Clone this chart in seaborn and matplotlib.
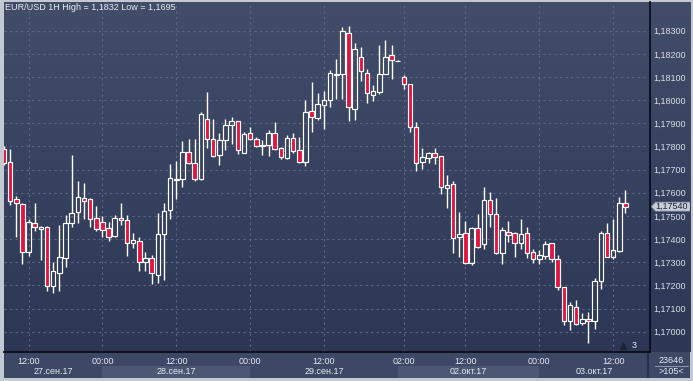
import numpy as np
import pandas as pd
import matplotlib
matplotlib.use("Agg")
import matplotlib.pyplot as plt
from matplotlib.colors import LinearSegmentedColormap
import seaborn as sns

# EUR/USD hourly candles (bar index 0 = 27 Sep 08:00)
opens = [1.17788, 1.17733, 1.17572, 1.17550, 1.17345, 1.17468, 1.17445, 1.17451, 1.17198, 1.17255,
         1.17319, 1.17468, 1.17515, 1.17576, 1.17572, 1.17490, 1.17472, 1.17446, 1.17414, 1.17490,
         1.17481, 1.17382, 1.17390, 1.17300, 1.17317, 1.17243, 1.17420, 1.17524, 1.17656, 1.17661,
         1.17776, 1.17727, 1.17658, 1.17917, 1.17831, 1.17762, 1.17829, 1.17891, 1.17909, 1.17773,
         1.17857, 1.17831, 1.17801, 1.17805, 1.17857, 1.17792, 1.17750, 1.17835, 1.17785, 1.17734,
         1.17953, 1.17924, 1.17978, 1.17999, 1.18110, 1.18113, 1.18291, 1.17960, 1.18188, 1.18116,
         1.18021, 1.18036, 1.18114, 1.18194, 1.18170, 1.18102, 1.18068, 1.17886, 1.17734, 1.17751,
         1.17770, 1.17757, 1.17622, 1.17638, 1.17410, 1.17425, 1.17298, 1.17446, 1.17377, 1.17569,
         1.17507, 1.17341, 1.17430, 1.17426, 1.17382, 1.17426, 1.17343, 1.17314, 1.17328, 1.17382,
         1.17312, 1.17192, 1.17047, 1.17108, 1.17039, 1.17053, 1.17045, 1.17220, 1.17425, 1.17324,
         1.17350, 1.17554]
highs = [1.17802, 1.17789, 1.17586, 1.17557, 1.17485, 1.17557, 1.17456, 1.17456, 1.17301, 1.17461,
         1.17504, 1.17764, 1.17651, 1.17643, 1.17576, 1.17543, 1.17500, 1.17472, 1.17503, 1.17554,
         1.17505, 1.17425, 1.17407, 1.17344, 1.17330, 1.17511, 1.17554, 1.17724, 1.17736, 1.17824,
         1.17832, 1.17832, 1.17950, 1.18035, 1.17919, 1.17859, 1.17917, 1.17927, 1.17912, 1.17862,
         1.17885, 1.17842, 1.17828, 1.17871, 1.17906, 1.17799, 1.17848, 1.17859, 1.17842, 1.18001,
         1.18078, 1.18030, 1.18040, 1.18130, 1.18176, 1.18316, 1.18320, 1.18248, 1.18230, 1.18135,
         1.18064, 1.18238, 1.18260, 1.18238, 1.18172, 1.18109, 1.18070, 1.17906, 1.17793, 1.17776,
         1.17793, 1.17759, 1.17677, 1.17651, 1.17517, 1.17478, 1.17451, 1.17508, 1.17626, 1.17603,
         1.17579, 1.17451, 1.17478, 1.17430, 1.17487, 1.17453, 1.17357, 1.17353, 1.17390, 1.17384,
         1.17330, 1.17193, 1.17128, 1.17137, 1.17079, 1.17085, 1.17232, 1.17436, 1.17471, 1.17488,
         1.17583, 1.17612]
lows = [1.17720, 1.17547, 1.17410, 1.17292, 1.17327, 1.17436, 1.17309, 1.17177, 1.17168, 1.17177,
        1.17280, 1.17451, 1.17471, 1.17488, 1.17451, 1.17436, 1.17410, 1.17392, 1.17410, 1.17459,
        1.17328, 1.17360, 1.17263, 1.17263, 1.17206, 1.17209, 1.17223, 1.17488, 1.17574, 1.17626,
        1.17724, 1.17652, 1.17655, 1.17792, 1.17754, 1.17721, 1.17785, 1.17812, 1.17769, 1.17770,
        1.17828, 1.17796, 1.17762, 1.17760, 1.17785, 1.17747, 1.17747, 1.17773, 1.17727, 1.17716,
        1.17864, 1.17916, 1.17875, 1.17972, 1.18005, 1.18005, 1.17911, 1.17914, 1.18084, 1.17989,
        1.17998, 1.18027, 1.18112, 1.18093, 1.18168, 1.18047, 1.17864, 1.17695, 1.17704, 1.17727,
        1.17724, 1.17595, 1.17535, 1.17341, 1.17324, 1.17292, 1.17289, 1.17363, 1.17357, 1.17453,
        1.17334, 1.17292, 1.17388, 1.17324, 1.17356, 1.17319, 1.17298, 1.17293, 1.17315, 1.17301,
        1.17180, 1.17030, 1.17007, 1.17030, 1.17030, 1.16950, 1.17013, 1.17185, 1.17321, 1.17315,
        1.17345, 1.17514]
closes = [1.17727, 1.17566, 1.17554, 1.17345, 1.17472, 1.17453, 1.17451, 1.17198, 1.17261, 1.17321,
          1.17469, 1.17512, 1.17580, 1.17566, 1.17488, 1.17445, 1.17438, 1.17410, 1.17490, 1.17481,
          1.17382, 1.17395, 1.17300, 1.17317, 1.17252, 1.17420, 1.17520, 1.17662, 1.17661, 1.17776,
          1.17730, 1.17661, 1.17940, 1.17831, 1.17757, 1.17827, 1.17893, 1.17909, 1.17783, 1.17854,
          1.17831, 1.17801, 1.17806, 1.17857, 1.17790, 1.17753, 1.17835, 1.17782, 1.17734, 1.17948,
          1.17926, 1.17982, 1.17999, 1.18116, 1.18113, 1.18297, 1.17969, 1.18220, 1.18126, 1.18030,
          1.18038, 1.18112, 1.18188, 1.18172, 1.18170, 1.18068, 1.17882, 1.17730, 1.17753, 1.17770,
          1.17756, 1.17626, 1.17633, 1.17406, 1.17422, 1.17295, 1.17446, 1.17367, 1.17569, 1.17507,
          1.17341, 1.17438, 1.17417, 1.17382, 1.17422, 1.17341, 1.17312, 1.17330, 1.17379, 1.17312,
          1.17192, 1.17045, 1.17114, 1.17033, 1.17053, 1.17045, 1.17219, 1.17427, 1.17324, 1.17353,
          1.17554, 1.17540]

price_ticks = [1.170, 1.171, 1.172, 1.173, 1.174, 1.175, 1.176, 1.177,
               1.178, 1.179, 1.180, 1.181, 1.182, 1.183]
time_ticks = [4, 16, 28, 40, 52, 65, 75, 87, 99]
time_labels = ["12:00", "00:00", "12:00", "00:00", "12:00", "02:00", "12:00", "00:00", "12:00"]
day_starts = [0, 16, 40, 64, 87]
day_labels = ["27.сен.17", "28.сен.17", "29.сен.17", "02.окт.17", "03.окт.17"]
bars_visible = 105
last_price = 1.17540
volume_text = "23646"
title = "EUR/USD 1H High = 1,1832 Low = 1,1695"

df = pd.DataFrame({"open": opens, "high": highs, "low": lows, "close": closes})
df["bar"] = np.arange(len(df))
df["up"] = df["close"] >= df["open"]
df["top"] = df[["open", "close"]].max(axis=1)
df["bot"] = df[["open", "close"]].min(axis=1)

sns.set_theme(style="dark")
plt.rcParams["font.family"] = ["Liberation Sans", "DejaVu Sans"]
FS = 6.5

W, H = 693, 381
fig = plt.figure(figsize=(W / 100, H / 100), dpi=100, facecolor="#c3c8d1")


def px_box(x0, y0, x1, y1):
    return [x0 / W, 1 - y1 / H, (x1 - x0) / W, (y1 - y0) / H]


ymin, ymax = 1.169121, 1.184240
xmin, xmax = -0.08, bars_visible

# gradient background behind the price area and the price scale
bg = fig.add_axes(px_box(3.5, 2, 690, 352), zorder=0)
grad = np.linspace(0, 1, 256).reshape(-1, 1)
cmap = LinearSegmentedColormap.from_list("bg", ["#424d6a", "#2c3756"])
bg.imshow(grad, aspect="auto", cmap=cmap, extent=[0, 1, 0, 1])
bg.axis("off")

# time axis strip
axb = fig.add_axes(px_box(3.5, 352, 650, 378), zorder=0.5, facecolor="#3c4865")
axb.set_xlim(xmin, xmax)
axb.set_ylim(0, 1)
axb.set_xticks([])
axb.set_yticks([])
for s in axb.spines.values():
    s.set_visible(False)
ends = day_starts[1:] + [bars_visible]
for k, (a, b, lab) in enumerate(zip(day_starts, ends, day_labels)):
    if k % 2 == 1:
        axb.axvspan(a, b, ymin=0, ymax=0.46, color="#4b5773", lw=0)
    axb.text((a + b) / 2, 0.24, lab, ha="center", va="center",
             fontsize=FS, color="#e6e9ef")
axb.axvline(xmax - 0.55, color="#27304a", lw=0.8)
axb.axvline(xmax - 0.3, color="#27304a", lw=0.8)

# right bottom box
axr = fig.add_axes(px_box(650, 352, 690, 378), zorder=0.5, facecolor="#3c4865")
axr.set_xlim(0, 1)
axr.set_ylim(0, 1)
axr.set_xticks([])
axr.set_yticks([])
for s in axr.spines.values():
    s.set_visible(False)
axr.text(0.53, 0.68, volume_text, ha="center", va="center", fontsize=FS, color="#e6e9ef")
axr.text(0.53, 0.24, f">{bars_visible}<", ha="center", va="center", fontsize=FS, color="#e6e9ef")
axr.plot([0.12, 0.95], [0.48, 0.48], color="#8c95aa", lw=0.8)

# main price chart
ax = fig.add_axes(px_box(3.5, 2, 650, 352), zorder=1)
ax.set_facecolor("none")
ax.set_xlim(xmin, xmax)
ax.set_ylim(ymin, ymax)

ax.vlines(df["bar"], df["top"], df["high"], color="white", lw=1)
ax.vlines(df["bar"], df["low"], df["bot"], color="white", lw=1)
ax.bar(df["bar"], (df["top"] - df["bot"]).clip(lower=1e-7), bottom=df["bot"], width=0.74,
       color=np.where(df["up"], "none", "#e0143c"), edgecolor="white", linewidth=0.85,
       zorder=3)

ax.set_yticks(price_ticks)
ax.yaxis.tick_right()
ax.yaxis.set_major_formatter(lambda v, p: f"{v:.5f}".replace(".", ","))
ax.set_xticks(time_ticks, time_labels)
ax.tick_params(axis="y", length=0, pad=2.6, labelsize=FS, labelcolor="#d8dce5")
ax.tick_params(axis="x", length=0, pad=3.8, labelsize=FS, labelcolor="#e6e9ef")
ax.grid(True, color="#5b6784", lw=0.8, linestyle=(0, (2, 3)))
for side, s in ax.spines.items():
    s.set_visible(side in ("right", "bottom"))
    s.set_color("#0b0e16")
    s.set_linewidth(1.3)

ax.plot(0.958, 0.018, marker="^", ms=4, color="#1b2337", transform=ax.transAxes, clip_on=False)
ax.text(0.975, 0.018, "3", ha="center", va="center", fontsize=FS, color="#e6e9ef",
        transform=ax.transAxes)

# last price tag on the price scale
axp = fig.add_axes(px_box(650, 2, 690, 352), zorder=2)
axp.set_facecolor("none")
axp.set_xlim(0, 40)
axp.set_ylim(ymin, ymax)
axp.axis("off")
hh = 0.000190
axp.fill([1.5, 5.5, 40, 40, 5.5], [last_price, last_price + hh, last_price + hh,
                                   last_price - hh, last_price - hh],
         color="#c9cdd6", ec="#9aa2b2", lw=0.6, zorder=1)
axp.text(22, last_price, f"{last_price:.5f}".replace(".", ","), ha="center", va="center",
         fontsize=FS, color="#1a2236", zorder=5)

fig.text(5 / W, 1 - 7.5 / H, title, ha="left", va="center", fontsize=FS, color="#e9ecf1")

fig.savefig("out.png", dpi=100, facecolor=fig.get_facecolor())
